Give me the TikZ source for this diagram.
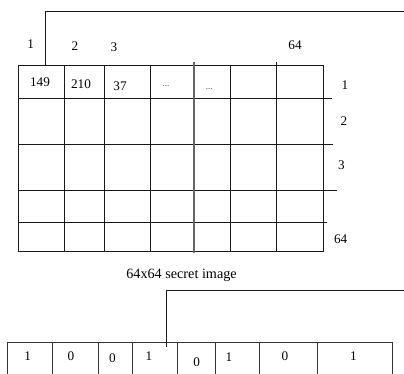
\documentclass[tikz,border=0pt]{standalone}
\usepackage{fontspec}
\setmainfont{Liberation Serif}
\begin{document}
\begin{tikzpicture}[x=1pt,y=-1pt,
  gridline/.style={line width=1pt,draw=black!90},
  conn/.style={line width=1pt,draw=black!90},
  lbl/.style={inner sep=0pt,font=\fontsize{13.2}{15}\selectfont},
  dots/.style={inner sep=0pt,font=\fontsize{9}{10}\selectfont,text=black!75}]
\clip (0,0) rectangle (404,373);
\fill[white] (0,0) rectangle (404,373);
% ---- top grid ----
\foreach \y in {65,251.7} \draw[gridline] (18.3,\y) -- (323.3,\y);
\draw[gridline] (18.3,98.7) -- (331.7,98.7);
\draw[gridline] (18.3,144) -- (333.3,144);
\draw[gridline] (18.3,190.3) -- (336.7,190.3);
\draw[gridline] (18.3,222.7) -- (326.5,222.7);
\foreach \x in {18.3,64.3,104.3,150.5,230.5,323.3} \draw[gridline] (\x,65) -- (\x,251.7);
\draw[gridline,draw=black!60,line width=1.2pt] (194,62) -- (194,252.7);
\draw[gridline] (276.5,62) -- (276.5,251.7);
% column labels
\node[lbl] (c1) at (30.7,44) {1};
\node[lbl] (c2) at (75,46) {2};
\node[lbl] (c3) at (114,47.3) {3};
\node[lbl] (c64) at (295,45) {64};
% row labels
\node[lbl] (r1) at (345,85.5) {1};
\node[lbl] (r2) at (344,121) {2};
\node[lbl] (r3) at (341.5,165) {3};
\node[lbl] (r64) at (340.7,239.3) {64};
% cell values
\node[lbl] (v1) at (40,82.3) {149};
\node[lbl] (v2) at (81,84) {210};
\node[lbl] (v3) at (120,85.7) {37};
\node[dots] (v4) at (166,85.7) {...};
\node[dots] (v5) at (209.3,89.3) {...};
% connector from first pixel
\coordinate (p1) at (45.7,65);
\coordinate (p1up) at (45.7,11.7);
\coordinate (p1out) at (404,11.7);
\draw[conn] (p1) -- (p1up) -- (p1out);
% caption
\node[lbl,font=\fontsize{14.2}{16}\selectfont] (cap) at (181.5,275.5) {64x64 secret image};
% ---- bottom bit row ----
\draw[gridline,draw=black!80] (7.3,380) -- (7.3,342.7) -- (392.7,342.7) -- (392.7,380);
\foreach \x in {52.3,98.7,132.7,177.3,215,259,317.7} \draw[gridline,draw=black!80] (\x,342.7) -- (\x,380);
\node[lbl] (b1) at (27.7,356) {1};
\node[lbl] (b2) at (71,356) {0};
\node[lbl] (b3) at (112.3,358.3) {0};
\node[lbl] (b4) at (149,356) {1};
\node[lbl] (b5) at (196.7,362) {0};
\node[lbl] (b6) at (229,357.5) {1};
\node[lbl] (b7) at (285,356.5) {0};
\node[lbl] (b8) at (353.3,356) {1};
% connector from bit row
\coordinate (q1) at (166.7,346.7);
\coordinate (q1up) at (166.7,290.7);
\coordinate (q1out) at (404,290.7);
\draw[conn] (q1) -- (q1up) -- (q1out);
\end{tikzpicture}
\end{document}
